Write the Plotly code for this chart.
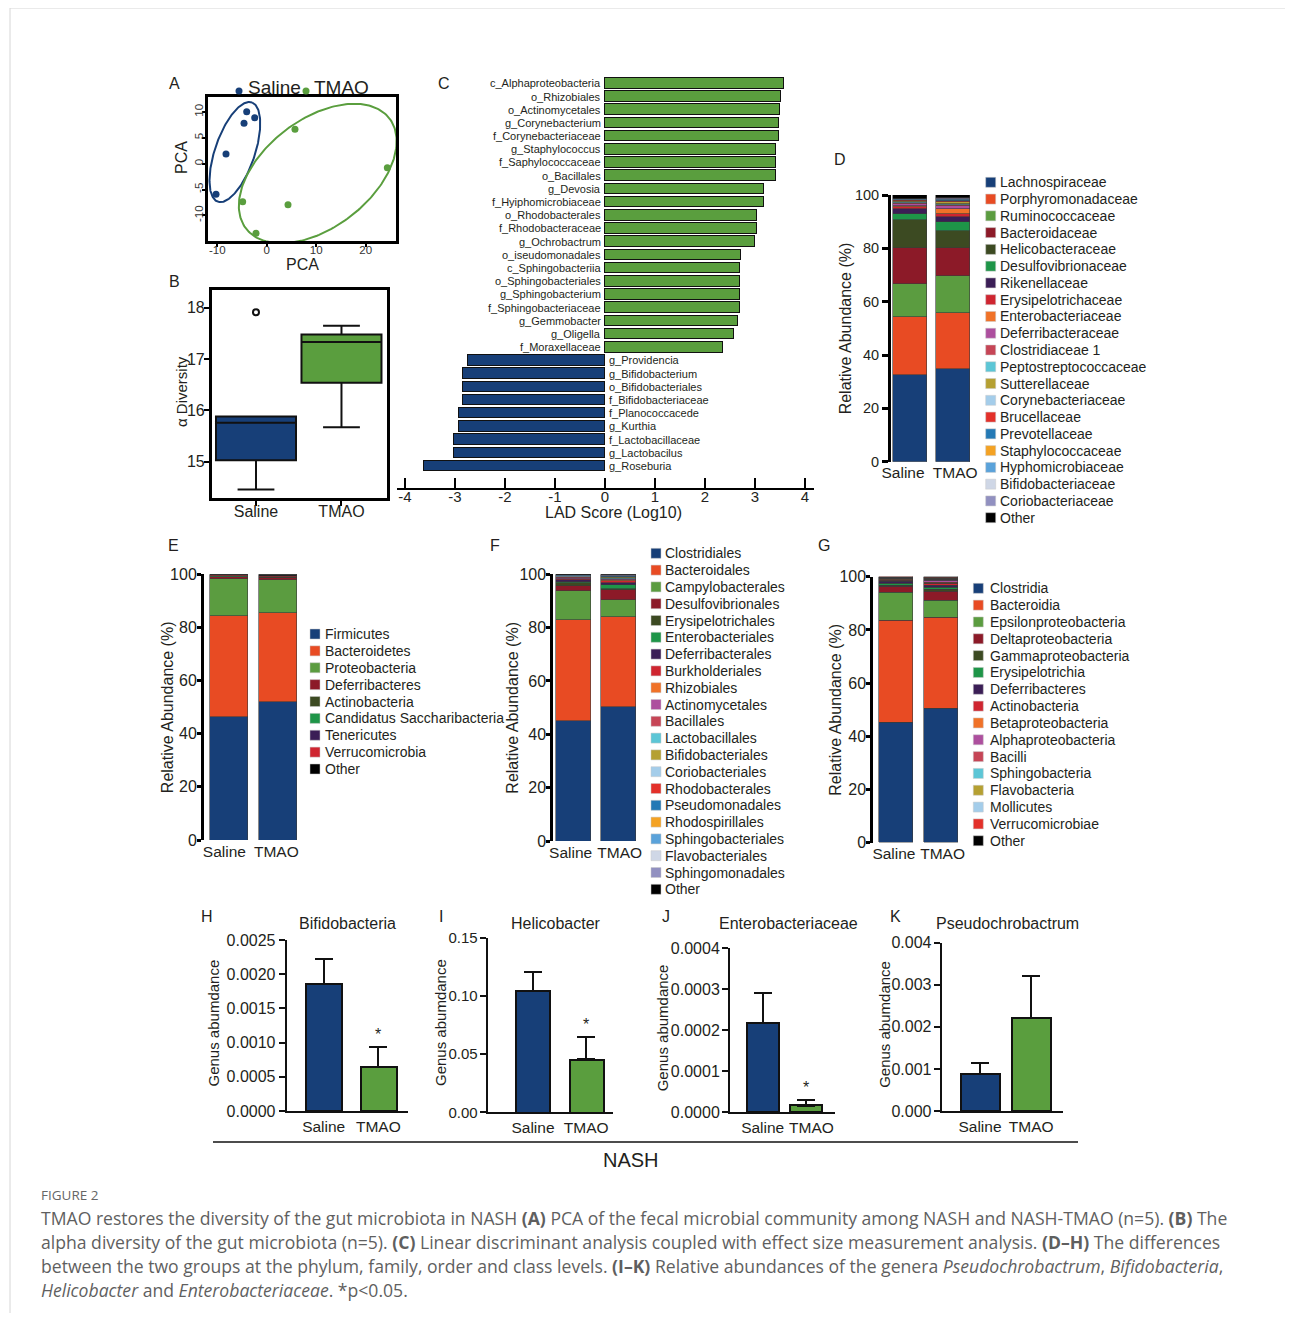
import numpy as np
import plotly.graph_objects as go

# page body has an 8px margin: the figure is drawn 8px in from the top-left corner
OFF = 8
FW, FH = 1277, 1305
FONT = "Liberation Sans, Arial, Helvetica, sans-serif"
CAP_FONT = "Open Sans, Liberation Sans, sans-serif"
TXT = "#231f20"
NAVY = "#173f78"
GREEN = "#5a9e3e"
PALETTE = ["#173f78", "#e84b23", "#5b9c40", "#8c1a28", "#3c4a22", "#1e9548", "#3b1e56",
           "#cf2530", "#f07228", "#ad4f9e", "#c64556", "#5cc6d6", "#b5a032", "#a4cdea",
           "#e3302a", "#2479b5", "#f4a223", "#5aa2da", "#cfd7e6", "#9190c0"]

# ------------------------------------------------------------------ data
GROUPS = ["Saline", "TMAO"]

# A: PCA scores
PCA_SALINE_X = [-10.26, -8.24, -4.6, -4.06, -2.44]
PCA_SALINE_Y = [-5.92, 1.88, 7.8, 10.06, 8.9]
PCA_TMAO_X = [5.7, 24.37, -4.87, 4.29, -2.18]
PCA_TMAO_Y = [6.65, -0.77, -7.35, -7.93, -13.46]
PCA_XTICKS = [-10, 0, 10, 20]
PCA_YTICKS = [-10, -5, 0, 5, 10]
# ellipse: centre x, centre y, semi-major, semi-minor, angle (deg)
ELLIPSE_SALINE = [-6.45, 2.25, 10.2, 4.0, 70]
ELLIPSE_TMAO = [10.3, -1.9, 18.0, 10.6, 35]

# B: alpha diversity (lower fence, q1, median, q3, upper fence)
ALPHA_SALINE = [14.46, 15.03, 15.76, 15.88, 15.88]
ALPHA_TMAO = [15.67, 16.54, 17.33, 17.48, 17.65]
ALPHA_SALINE_OUTLIER = [17.91]

# C: LDA scores
LDA_TMAO_TAXA = ["c_Alphaproteobacteria", "o_Rhizobiales", "o_Actinomycetales", "g_Corynebacterium",
                 "f_Corynebacteriaceae", "g_Staphylococcus", "f_Saphylococcaceae", "o_Bacillales",
                 "g_Devosia", "f_Hyiphomicrobiaceae", "o_Rhodobacterales", "f_Rhodobacteraceae",
                 "g_Ochrobactrum", "o_iseudomonadales", "c_Sphingobacteriia", "o_Sphingobacteriales",
                 "g_Sphingobacterium", "f_Sphingobacteriaceae", "g_Gemmobacter", "g_Oligella",
                 "f_Moraxellaceae"]
LDA_TMAO_SCORE = [3.58, 3.52, 3.49, 3.47, 3.47, 3.42, 3.42, 3.42, 3.18, 3.18, 3.04, 3.04,
                  3.0, 2.72, 2.69, 2.69, 2.69, 2.69, 2.65, 2.58, 2.36]
LDA_SALINE_TAXA = ["g_Providencia", "g_Bifidobacterium", "o_Bifidobacteriales", "f_Bifidobacteriaceae",
                   "f_Planococcacede", "g_Kurthia", "f_Lactobacillaceae", "g_Lactobacilus", "g_Roseburia"]
LDA_SALINE_SCORE = [-2.75, -2.85, -2.85, -2.85, -2.92, -2.92, -3.03, -3.03, -3.63]
LDA_TICKS = [-4, -3, -2, -1, 0, 1, 2, 3, 4]

# D: family level (%)
FAMILY_NAMES = ["Lachnospiraceae", "Porphyromonadaceae", "Ruminococcaceae", "Bacteroidaceae",
                "Helicobacteraceae", "Desulfovibrionaceae", "Rikenellaceae", "Erysipelotrichaceae",
                "Enterobacteriaceae", "Deferribacteraceae", "Clostridiaceae 1", "Peptostreptococcaceae",
                "Sutterellaceae", "Corynebacteriaceae", "Brucellaceae", "Prevotellaceae",
                "Staphylococcaceae", "Hyphomicrobiaceae", "Bifidobacteriaceae", "Coriobacteriaceae", "Other"]
FAMILY_SALINE = [32.6, 21.7, 12.2, 13.6, 10.5, 2.4, 1.9, 0.6, 0.4, 0.8, 0.3, 0.3, 0.4, 0.2, 0.2,
                 0.1, 0.1, 0.1, 0.1, 0.1, 1.4]
FAMILY_TMAO = [34.8, 21.0, 13.7, 10.6, 6.4, 3.3, 2.1, 1.0, 1.8, 1.0, 0.6, 0.5, 0.4, 0.3, 0.3,
               0.2, 0.3, 0.2, 0.1, 0.1, 1.3]

# E: phylum level (%)
PHYLUM_NAMES = ["Firmicutes", "Bacteroidetes", "Proteobacteria", "Deferribacteres", "Actinobacteria",
                "Candidatus Saccharibacteria", "Tenericutes", "Verrucomicrobia", "Other"]
PHYLUM_SALINE = [46.2, 38.1, 14.0, 0.5, 0.2, 0.1, 0.1, 0.3, 0.5]
PHYLUM_TMAO = [51.9, 33.4, 12.6, 0.6, 0.2, 0.1, 0.1, 0.5, 0.6]

# F: order level (%)
ORDER_NAMES = ["Clostridiales", "Bacteroidales", "Campylobacterales", "Desulfovibrionales",
               "Erysipelotrichales", "Enterobacteriales", "Deferribacterales", "Burkholderiales",
               "Rhizobiales", "Actinomycetales", "Bacillales", "Lactobacillales", "Bifidobacteriales",
               "Coriobacteriales", "Rhodobacterales", "Pseudomonadales", "Rhodospirillales",
               "Sphingobacteriales", "Flavobacteriales", "Sphingomonadales", "Other"]
ORDER_SALINE = [44.7, 38.2, 10.7, 2.0, 0.9, 0.4, 0.7, 0.4, 0.2, 0.3, 0.2, 0.1, 0.1, 0.2, 0.1,
                0.1, 0.1, 0.1, 0.1, 0.1, 0.3]
ORDER_TMAO = [50.0, 33.9, 6.2, 3.8, 0.6, 1.4, 0.8, 0.5, 0.4, 0.4, 0.3, 0.2, 0.2, 0.2, 0.1,
              0.1, 0.1, 0.1, 0.1, 0.1, 0.5]

# G: class level (%)
CLASS_NAMES = ["Clostridia", "Bacteroidia", "Epsilonproteobacteria", "Deltaproteobacteria",
               "Gammaproteobacteria", "Erysipelotrichia", "Deferribacteres", "Actinobacteria",
               "Betaproteobacteria", "Alphaproteobacteria", "Bacilli", "Sphingobacteria",
               "Flavobacteria", "Mollicutes", "Verrucomicrobiae", "Other"]
CLASS_SALINE = [45.3, 38.2, 10.5, 2.2, 0.5, 0.8, 0.6, 0.3, 0.5, 0.3, 0.2, 0.1, 0.1, 0.1, 0.2, 0.1]
CLASS_TMAO = [50.3, 34.2, 6.3, 3.4, 1.0, 0.6, 1.0, 0.5, 0.6, 0.5, 0.4, 0.2, 0.2, 0.2, 0.3, 0.3]
ABUND_TICKS = [0, 20, 40, 60, 80, 100]

# H-K: genus abundance (mean, SEM)
GENUS_TITLES = ["Bifidobacteria", "Helicobacter", "Enterobacteriaceae", "Pseudochrobactrum"]
GENUS_MEAN = [[0.001857, 0.000648], [0.1045, 0.0455], [0.000217, 0.0000161], [0.00088, 0.00222]]
GENUS_SEM = [[0.000361, 0.000292], [0.0163, 0.0195], [0.000075, 0.000014], [0.00027, 0.00099]]
GENUS_SIG = [["", "*"], ["", "*"], ["", "*"], ["", ""]]
GENUS_TICKS = [[0, 0.0005, 0.001, 0.0015, 0.002, 0.0025], [0, 0.05, 0.10, 0.15],
               [0, 0.0001, 0.0002, 0.0003, 0.0004], [0, 0.001, 0.002, 0.003, 0.004]]
GENUS_TICKFMT = ["{:.4f}", "{:.2f}", "{:.4f}", "{:.3f}"]

# ------------------------------------------------------------------ helpers
fig = go.Figure()
axes = {}
annotations = []
shapes = []


def px(x):
    return (x - OFF) / FW


def py(y):
    return 1 - (y - OFF) / FH


def add_axes(n, x0, x1, ytop, ybot, xkw, ykw):
    sfx = "" if n == 1 else str(n)
    base = dict(showgrid=False, zeroline=False, automargin=False, fixedrange=True)
    axes["xaxis" + sfx] = dict(base, domain=[px(x0), px(x1)], anchor="y" + sfx, **xkw)
    axes["yaxis" + sfx] = dict(base, domain=[py(ybot), py(ytop)], anchor="x" + sfx, **ykw)
    return "x" + sfx, "y" + sfx


def text(s, x, y, size, xanchor="center", yanchor="middle", angle=0, color=TXT, family=FONT):
    annotations.append(dict(text=s, x=px(x), y=py(y), xref="paper", yref="paper",
                            xanchor=xanchor, yanchor=yanchor, textangle=angle, showarrow=False,
                            font=dict(family=family, size=size, color=color)))


def tf(size, color=TXT):
    return dict(family=FONT, size=size, color=color)


def lab(vals):
    return [str(v) for v in vals]


# ------------------------------------------------------------------ A: PCA
frame = dict(showline=True, mirror=True, linewidth=2.5, linecolor="black",
             ticks="outside", ticklen=3, tickwidth=1.5, tickcolor="black")
xa, ya = add_axes(1, 208, 396, 97, 241,
                  dict(frame, range=[-11.88, 26.12], tickvals=PCA_XTICKS, ticktext=lab(PCA_XTICKS),
                       tickangle=0, ticklabelstandoff=-7, tickfont=tf(11.5, "#333")),
                  dict(frame, range=[-14.95, 12.9], tickvals=PCA_YTICKS, ticktext=lab(PCA_YTICKS),
                       tickangle=-90, ticklabelstandoff=-5, tickfont=tf(11.5, "#333")))
t = np.linspace(0, 2 * np.pi, 240)
for (cx, cy, a, b, ang), col in [(ELLIPSE_SALINE, NAVY), (ELLIPSE_TMAO, GREEN)]:
    th = np.deg2rad(ang)
    ex = cx + a * np.cos(t) * np.cos(th) - b * np.sin(t) * np.sin(th)
    ey = cy + a * np.cos(t) * np.sin(th) + b * np.sin(t) * np.cos(th)
    fig.add_trace(go.Scatter(x=ex, y=ey, mode="lines", line=dict(color=col, width=2),
                             xaxis=xa, yaxis=ya, hoverinfo="skip"))
fig.add_trace(go.Scatter(x=PCA_SALINE_X, y=PCA_SALINE_Y, mode="markers", name="Saline",
                         marker=dict(color=NAVY, size=7), xaxis=xa, yaxis=ya))
fig.add_trace(go.Scatter(x=PCA_TMAO_X, y=PCA_TMAO_Y, mode="markers", name="TMAO",
                         marker=dict(color=GREEN, size=7), xaxis=xa, yaxis=ya))
text("PCA", 182, 158, 16, angle=-90)
text("PCA", 302, 265, 16)
for gx, col, label, tx in [(239, NAVY, "Saline", 246), (306, GREEN, "TMAO", 312)]:
    shapes.append(dict(type="circle", xref="paper", yref="paper", x0=px(gx - 3.5), x1=px(gx + 3.5),
                       y0=py(94.5), y1=py(87.5), fillcolor=col, line=dict(width=0)))
    text(label, tx, 88, 19, xanchor="left")

# ------------------------------------------------------------------ B: alpha diversity
xb, yb = add_axes(2, 211.7, 387.3, 290, 498.3,
                  dict(frame, range=[-0.518, 1.536], tickvals=[0, 1], ticktext=GROUPS, ticklen=5,
                       tickangle=0, ticklabelstandoff=-8, tickfont=tf(16)),
                  dict(frame, range=[14.287, 18.345], tickvals=[15, 16, 17, 18], ticklen=5,
                       ticklabelstandoff=-4, tickfont=tf(16)))
for i, (stats, col) in enumerate([(ALPHA_SALINE, NAVY), (ALPHA_TMAO, GREEN)]):
    fig.add_trace(go.Box(x=[i], lowerfence=[stats[0]], q1=[stats[1]], median=[stats[2]],
                         q3=[stats[3]], upperfence=[stats[4]], fillcolor=col,
                         line=dict(color="#111", width=2), width=0.936, whiskerwidth=0.46,
                         boxpoints=False, xaxis=xb, yaxis=yb, name=GROUPS[i]))
fig.add_trace(go.Scatter(x=[0] * len(ALPHA_SALINE_OUTLIER), y=ALPHA_SALINE_OUTLIER, mode="markers",
                         marker=dict(symbol="circle-open", size=6, color="#111", line=dict(width=2)),
                         xaxis=xb, yaxis=yb))
text("α Diversity", 181, 392, 15, angle=-90)

# ------------------------------------------------------------------ C: LDA
n_t = len(LDA_TMAO_TAXA)
n_all = n_t + len(LDA_SALINE_TAXA)
xc, yc = add_axes(3, 397, 814, 75, 488.3,
                  dict(range=[-4.16, 4.18], tickvals=LDA_TICKS, ticktext=lab(LDA_TICKS), ticks="inside",
                       ticklen=10, tickwidth=2, tickcolor="black", showline=True, linewidth=2,
                       linecolor="black", tickangle=0, ticklabelstandoff=-6, tickfont=tf(15)),
                  dict(range=[n_all - 1 + 1.69, -0.63], visible=False))
fig.add_trace(go.Bar(x=LDA_TMAO_SCORE, y=list(range(n_t)), orientation="h", width=0.8,
                     marker=dict(color=GREEN, line=dict(color="#111", width=1.5)), xaxis=xc, yaxis=yc))
fig.add_trace(go.Bar(x=LDA_SALINE_SCORE, y=list(range(n_t, n_all)), orientation="h", width=0.8,
                     marker=dict(color=NAVY, line=dict(color="#111", width=1.5)), xaxis=xc, yaxis=yc))
for i, name in enumerate(LDA_TMAO_TAXA):
    annotations.append(dict(text=name, x=0, y=i, xref=xc, yref=yc, xanchor="right", xshift=-2,
                            showarrow=False, font=tf(11)))
for j, name in enumerate(LDA_SALINE_TAXA):
    annotations.append(dict(text=name, x=0, y=n_t + j, xref=xc, yref=yc, xanchor="left", xshift=2,
                            showarrow=False, font=tf(11)))
text("LAD Score (Log10)", 613, 513, 16)

# ------------------------------------------------------------------ D-G: stacked bars
STACKS = [
    dict(n=4, names=FAMILY_NAMES, s=FAMILY_SALINE, t=FAMILY_TMAO, axis=891, c=(910.3, 953), bw=34,
         y0=461.7, y100=195, sqx=985.7, txx=998.3, ly0=182.3, ldy=16.77, ytx=845,
         toff=(-0.17, 0.05), yfont=14.5, ylen=6, ystand=0),
    dict(n=5, names=PHYLUM_NAMES, s=PHYLUM_SALINE, t=PHYLUM_TMAO, axis=204, c=(229.2, 277.8), bw=38.5,
         y0=840, y100=574.3, sqx=310, txx=323.3, ly0=634, ldy=16.875, ytx=167,
         toff=(-0.1, -0.03), yfont=16, ylen=4, ystand=-3),
    dict(n=6, names=ORDER_NAMES, s=ORDER_SALINE, t=ORDER_TMAO, axis=553.3, c=(573.8, 618.8), bw=35.7,
         y0=841, y100=574.3, sqx=651, txx=663.3, ly0=553.3, ldy=16.8, ytx=513,
         toff=(-0.07, 0.02), yfont=16, ylen=4, ystand=-3),
    dict(n=7, names=CLASS_NAMES, s=CLASS_SALINE, t=CLASS_TMAO, axis=873.3, c=(896.2, 941.2), bw=34.3,
         y0=842.7, y100=576.7, sqx=973.3, txx=988.3, ly0=588.3, ldy=16.83, ytx=836,
         toff=(-0.05, 0.03), yfont=16, ylen=4, ystand=-3),
]
for P in STACKS:
    sp = P["c"][1] - P["c"][0]
    right = P["c"][1] + P["bw"] / 2 + 4
    xr = [-(P["c"][0] - P["axis"]) / sp, 1 + (right - P["c"][1]) / sp]
    xs, ys = add_axes(P["n"], P["axis"], right, P["y100"], P["y0"],
                      dict(range=xr, tickvals=[0 + P["toff"][0], 1 + P["toff"][1]], ticktext=GROUPS,
                           showline=False, ticks="", tickangle=0, tickfont=tf(15.5)),
                      dict(range=[0, 100], tickvals=ABUND_TICKS, showline=True, linewidth=3,
                           linecolor="black", ticks="outside", ticklen=P["ylen"], tickwidth=2.5,
                           ticklabelstandoff=P["ystand"], tickcolor="black", tickfont=tf(P["yfont"])))
    for k, (name, vs, vt) in enumerate(zip(P["names"], P["s"], P["t"])):
        col = "#000000" if name == "Other" else PALETTE[k]
        fig.add_trace(go.Bar(x=[0, 1], y=[vs, vt], name=name, width=P["bw"] / sp,
                             marker=dict(color=col, line=dict(color="#3a3a3a", width=0.6)),
                             xaxis=xs, yaxis=ys))
        yy = P["ly0"] + k * P["ldy"]
        shapes.append(dict(type="rect", xref="paper", yref="paper", x0=px(P["sqx"]), x1=px(P["sqx"] + 10),
                           y0=py(yy + 5), y1=py(yy - 5), fillcolor=col,
                           line=dict(color="#c8c8c8", width=0.5)))
        text(name, P["txx"], yy, 14, xanchor="left")
    text("Relative Abundance (%)", P["ytx"], (P["y0"] + P["y100"]) / 2, 16, angle=-90)

# ------------------------------------------------------------------ H-K: genus bars
GENUS_PANELS = [
    dict(n=8, axis=286.7, c=(323.7, 378.3), bw=36, right=408.3, y0=1111, ytop=940, ytx=213, title_x=347,
         tick=16, stand=0, toff=(0, 0)),
    dict(n=9, axis=487.7, c=(533, 586.2), bw=34, right=613, y0=1112.3, ytop=937.7, ytx=440, title_x=556,
         tick=15, stand=-1, toff=(0, 0)),
    dict(n=10, axis=730, c=(762.7, 805.5), bw=32, right=835, y0=1112.3, ytop=948.3, ytx=662, title_x=788,
         tick=16, stand=-1, toff=(0, 0.14)),
    dict(n=11, axis=941.7, c=(980, 1031.2), bw=38.6, right=1063, y0=1111, ytop=942.7, ytx=885,
         title_x=1007, tick=16, stand=-1, toff=(0, 0)),
]
for g, P in enumerate(GENUS_PANELS):
    sp = P["c"][1] - P["c"][0]
    xr = [-(P["c"][0] - P["axis"]) / sp, 1 + (P["right"] - P["c"][1]) / sp]
    ticks = GENUS_TICKS[g]
    xs, ys = add_axes(P["n"], P["axis"], P["right"], P["ytop"], P["y0"],
                      dict(range=xr, tickvals=[0 + P["toff"][0], 1 + P["toff"][1]], ticktext=GROUPS,
                           showline=True, linewidth=2, linecolor="#111", ticks="", tickangle=0,
                           tickfont=tf(15.5)),
                      dict(range=[0, ticks[-1]], tickvals=ticks,
                           ticktext=[GENUS_TICKFMT[g].format(v) for v in ticks], showline=True,
                           linewidth=2, linecolor="#111", ticks="outside", ticklen=6, tickwidth=2,
                           ticklabelstandoff=P["stand"], tickcolor="#111", tickfont=tf(P["tick"])))
    fig.add_trace(go.Bar(x=[0, 1], y=GENUS_MEAN[g], width=P["bw"] / sp,
                         marker=dict(color=[NAVY, GREEN], line=dict(color="#111", width=2)),
                         error_y=dict(type="data", array=GENUS_SEM[g], arrayminus=[0, 0], symmetric=False,
                                      color="#111", thickness=2, width=9),
                         xaxis=xs, yaxis=ys))
    for i, s in enumerate(GENUS_SIG[g]):
        if s:
            annotations.append(dict(text=s, x=i, y=GENUS_MEAN[g][i] + GENUS_SEM[g][i], xref=xs, yref=ys,
                                    yanchor="bottom", yshift=2, showarrow=False, font=tf(16)))
    text(GENUS_TITLES[g], P["title_x"], 923, 16)
    text("Genus abumdance", P["ytx"], (P["y0"] + P["ytop"]) / 2 - 2, 15, angle=-90)

shapes.append(dict(type="line", xref="paper", yref="paper", x0=px(213), x1=px(1078), y0=py(1142),
                   y1=py(1142), line=dict(color="#111", width=1.5)))
text("NASH", 631, 1160, 20)

# ------------------------------------------------------------------ panel letters
for letter, x, y in [("A", 174, 83), ("B", 174, 281), ("C", 444, 83), ("D", 840, 160), ("E", 173, 545),
                     ("F", 495, 545), ("G", 824, 545), ("H", 207, 916), ("I", 441, 916), ("J", 666, 916),
                     ("K", 895, 916)]:
    text(letter, x, y, 16)

# ------------------------------------------------------------------ caption
text("FIGURE 2", 39, 1195, 13.5, xanchor="left", color="#666", family=CAP_FONT)
CAPTION = [
    "TMAO restores the diversity of the gut microbiota in NASH <b>(A)</b> PCA of the fecal microbial "
    "community among NASH and NASH-TMAO (n=5). <b>(B)</b> The",
    "alpha diversity of the gut microbiota (n=5). <b>(C)</b> Linear discriminant analysis coupled with "
    "effect size measurement analysis. <b>(D–H)</b> The differences",
    "between the two groups at the phylum, family, order and class levels. <b>(I–K)</b> Relative "
    "abundances of the genera <i>Pseudochrobactrum</i>, <i>Bifidobacteria</i>,",
    "<i>Helicobacter</i> and <i>Enterobacteriaceae</i>. *p&lt;0.05.",
]
for i, line in enumerate(CAPTION):
    text(line, 39, 1218 + 24 * i, 17.6, xanchor="left", color="#5f5f5f", family=CAP_FONT)

shapes.append(dict(type="rect", xref="paper", yref="paper", x0=px(10), x1=px(1320), y0=py(1350),
                   y1=py(8), line=dict(color="#d6d6d6", width=1), fillcolor="rgba(0,0,0,0)", layer="below"))

fig.update_layout(width=FW, height=FH, margin=dict(l=0, r=0, t=0, b=0), paper_bgcolor="white",
                  plot_bgcolor="rgba(0,0,0,0)", showlegend=False, barmode="stack", bargap=0,
                  font=dict(family=FONT, color=TXT), annotations=annotations, shapes=shapes, **axes)
fig.write_html("out.html")
